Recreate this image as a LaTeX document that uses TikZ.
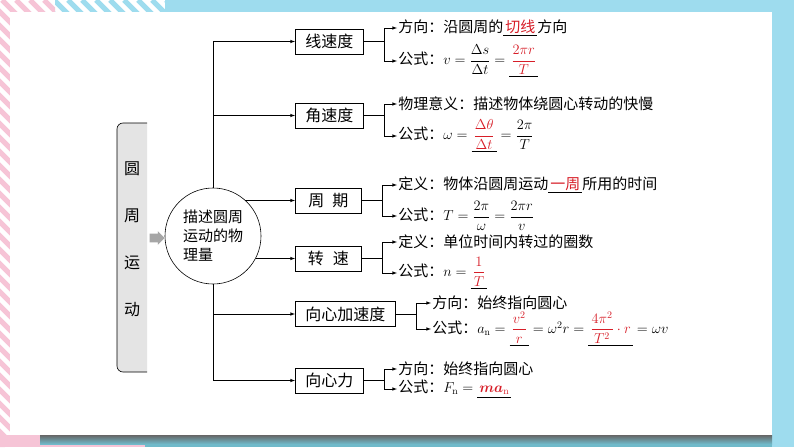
\documentclass[tikz,border=0pt]{standalone}
\usepackage{amsmath}
\usepackage{fontspec}
\newfontfamily\cjk{Noto Sans CJK SC}
\usetikzlibrary{arrows,shapes.arrows}
\definecolor{bgblue}{RGB}{158,220,238}
\definecolor{pinkband}{RGB}{246,196,214}
\definecolor{tealband}{RGB}{112,186,202}
\definecolor{boxgray}{RGB}{228,228,228}
\definecolor{ansred}{RGB}{215,30,40}
\newcommand{\tk}[1]{\underline{\hspace{2pt}\textcolor{ansred}{#1}\hspace{2pt}}}
\newcommand{\mf}[1]{{\fontsize{14}{16}\selectfont$#1$}}

\begin{document}
\begin{tikzpicture}[x=1pt, y=-1pt, >=latex, line width=0.6pt,
  qbox/.style={draw, anchor=west, minimum width=66pt, minimum height=25pt, inner xsep=10pt,
    font=\cjk\fontsize{16}{18}\selectfont},
  qitem/.style={anchor=west, inner xsep=1pt, inner ysep=1pt, font=\cjk\fontsize{15}{18}\selectfont}]

\useasboundingbox (0,0) rectangle (794,447);

% frame
\fill[bgblue] (0,0) rectangle (794,447);
\fill[white] (0,0) rectangle (165,12);
\fill[white] (0,12) rectangle (10,447);
\fill[pinkband] (0,435) rectangle (145,447);
\fill[tealband] (145,435) rectangle (772,447);
\begin{scope}
\clip (0,0) rectangle (55,12) (0,12) rectangle (10,447);
\foreach \c in {-460,-446,...,60}
  \draw[pinkband, line width=5pt] (\c,0) -- ++(500,500);
\end{scope}
\begin{scope}
\clip (55,0) rectangle (165,12);
\foreach \c in {40,54,...,180}
  \draw[bgblue, line width=5pt] (\c,0) -- ++(20,20);
\end{scope}
\shade[top color=black!60, bottom color=tealband] (40,435) rectangle (772,444);
\fill[white] (10,12) rectangle (772,435);

% title bar
\filldraw[fill=boxgray, rounded corners=6pt] (147,123) -- (117,123) -- (117,372) -- (147,372);
\node[align=center, font=\cjk\fontsize{16}{47}\selectfont] (main) at (132,239) {圆\\周\\运\\动};
\node[single arrow, fill=black!35, minimum height=15pt, inner sep=4pt,
  single arrow head extend=2.5pt] (garr) at (155,238) {};

% centre circle
\node[draw, circle, minimum size=96pt, inner sep=0pt, align=left,
  font=\cjk\fontsize{15}{19}\selectfont] (desc) at (213,236) {描述圆周\\运动的物\\理量};

% quantities
\node[qbox] (v1) at (295,41.5) {线速度};
\node[qbox] (w) at (295,115.5) {角速度};
\node[qbox] (T) at (295,200.5) {周\hspace{8pt}期};
\node[qbox] (n) at (295,258.5) {转\hspace{9pt}速};
\node[qbox] (an) at (295,314) {向心加速度};
\node[qbox] (F) at (295,380.5) {向心力};

\draw[->] (desc.north) |- (v1.west);
\draw[->] (desc.north) |- (w.west);
\draw[->] (T.west -| desc.48) -- (T.west);
\draw[->] (n.west -| desc.-28) -- (n.west);
\draw[->] (desc.south) |- (an.west);
\draw[->] (desc.south) |- (F.west);

% details
\node[qitem] (v1a) at (397,28) {方向：沿圆周的\tk{切线}方向};
\node[qitem] (v1b) at (397,61) {公式：\mf{v=\dfrac{\Delta s}{\Delta t}=\tk{\dfrac{2\pi r}{T}}}};
\node[qitem] (wa) at (397,104) {物理意义：描述物体绕圆心转动的快慢};
\node[qitem] (wb) at (397,136) {公式：\mf{\omega=\tk{\dfrac{\Delta\theta}{\Delta t}}=\dfrac{2\pi}{T}}};
\node[qitem] (Ta) at (397,185) {定义：物体沿圆周运动\tk{一周}所用的时间};
\node[qitem] (Tb) at (397,216) {公式：\mf{T=\dfrac{2\pi}{\omega}=\dfrac{2\pi r}{v}}};
\node[qitem] (na) at (397,242) {定义：单位时间内转过的圈数};
\node[qitem] (nb) at (397,273) {公式：\mf{n=\tk{\dfrac{1}{T}}}};
\node[qitem] (ana) at (431,303) {方向：始终指向圆心};
\node[qitem] (anb) at (431,329) {公式：\mf{a_{\mathrm n}=\tk{\dfrac{v^2}{r}}=\omega^2r=\tk{\dfrac{4\pi^2}{T^2}\cdot r}=\omega v}};
\node[qitem] (Fa) at (397,369) {方向：始终指向圆心};
\node[qitem] (Fb) at (397,389) {公式：\mf{F_{\mathrm n}=\tk{\boldsymbol{ma}_{\mathrm n}}}};

\draw (v1.east) -- ++(21,0) coordinate (b1);
\draw[->] (b1) |- (v1a.west);
\draw[->] (b1) |- (v1b.west);
\draw (w.east) -- ++(21,0) coordinate (b2);
\draw[->] (b2) |- (wa.west);
\draw[->] (b2) |- (wb.west);
\draw (T.east) -- ++(21,0) coordinate (b3);
\draw[->] (b3) |- (Ta.west);
\draw[->] (b3) |- (Tb.west);
\draw (n.east) -- ++(21,0) coordinate (b4);
\draw[->] (b4) |- (na.west);
\draw[->] (b4) |- (nb.west);
\draw (an.east) -- ++(21,0) coordinate (b5);
\draw[->] (b5) |- (ana.west);
\draw[->] (b5) |- (anb.west);
\draw (F.east) -- ++(21,0) coordinate (b6);
\draw[->] (b6) |- (Fa.west);
\draw[->] (b6) |- (Fb.west);

\end{tikzpicture}
\end{document}
